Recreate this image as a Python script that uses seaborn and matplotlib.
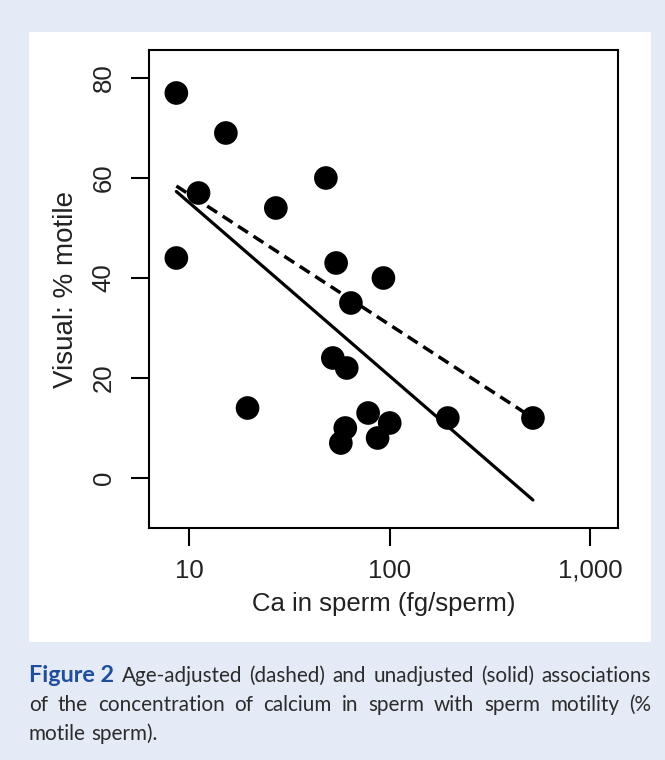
import numpy as np
import pandas as pd
import matplotlib
matplotlib.use("Agg")
import matplotlib.pyplot as plt
import seaborn as sns
from matplotlib.patches import Rectangle

# Data
ca_sperm = [8.6, 15.2, 11.1, 48, 27, 8.6, 54, 93, 64, 52, 61, 195, 519,
            60, 57, 78, 100, 87, 19.5]
motile = [77, 69, 57, 60, 54, 44, 43, 40, 35, 24, 22, 12, 12,
          10, 7, 13, 11, 8, 14]

# fitted lines (end points)
fit_x = [8.6, 519]
solid_y = [57.3, -4.4]    # unadjusted
dashed_y = [58.4, 12.0]   # age-adjusted

x_ticks = [10, 100, 1000]
x_ticklabels = ["10", "100", "1,000"]
y_ticks = [0, 20, 40, 60, 80]

caption_line1 = "Age-adjusted (dashed) and unadjusted (solid) associations"
caption_line2 = "of the concentration of calcium in sperm with sperm motility (%"
caption_line3 = "motile sperm)."

df = pd.DataFrame({"ca": ca_sperm, "motile": motile})

sns.set_style("white")
plt.rcParams["font.family"] = ["Liberation Sans", "DejaVu Sans"]

W, H = 665, 760
fig = plt.figure(figsize=(W / 100, H / 100), dpi=100)
fig.patch.set_facecolor("#e4eaf6")

# white panel behind the chart
fig.patches.append(Rectangle((29 / W, 1 - 641.7 / H), 622 / W, 609.7 / H,
                             transform=fig.transFigure, facecolor="white",
                             edgecolor="none", zorder=-5))

ax = fig.add_axes([149 / W, 1 - 528 / H, 469 / W, 478 / H], zorder=2)
ax.set_facecolor("white")

sns.scatterplot(data=df, x="ca", y="motile", s=290, color="black",
                edgecolor="none", ax=ax, zorder=3)
sns.lineplot(x=fit_x, y=solid_y, color="black", linewidth=2.3, ax=ax, zorder=4)
sns.lineplot(x=fit_x, y=dashed_y, color="black", linewidth=2.5, ax=ax, zorder=4,
             linestyle=(0, (3.4, 1.9)))

ax.set_xscale("log")
ax.set_xlim(6.28, 1380)
ax.set_ylim(-10, 85.6)
ax.set_xticks(x_ticks)
ax.set_xticklabels(x_ticklabels)
ax.minorticks_off()
ax.set_yticks(y_ticks)
ax.set_yticklabels([str(v) for v in y_ticks], rotation=90, va="center")

for s in ax.spines.values():
    s.set_visible(True)
    s.set_color("black")
    s.set_linewidth(1.5)

ax.tick_params(axis="both", direction="out", length=13, width=1.5,
               color="black", labelsize=18.5, labelcolor="#222222",
               bottom=True, left=True)
ax.tick_params(axis="x", pad=9)
ax.tick_params(axis="y", pad=11)

ax.set_xlabel("Ca in sperm (fg/sperm)", fontsize=18.5, color="#222222", labelpad=7)
ax.set_ylabel("Visual: % motile", fontsize=20, color="#222222", labelpad=9)

# caption, justified like the journal layout
cap_font = ["Lato", "DejaVu Sans"]
left, right = 29, 651
fig.canvas.draw()
renderer = fig.canvas.get_renderer()


def place_words(items, y_px, justify=True):
    texts = []
    for word, kw in items:
        t = fig.text(0, 1 - y_px / H, word, family=cap_font, va="baseline",
                     ha="left", **kw)
        texts.append(t)
    widths = [t.get_window_extent(renderer).width for t in texts]
    if justify and len(texts) > 1:
        gap = (right - left - sum(widths)) / (len(texts) - 1)
    else:
        gap = 5
    x = left
    for t, w in zip(texts, widths):
        t.set_x(x / W)
        x += w + gap


reg = dict(fontsize=14.9, color="#2b2b2b")
line1 = [("Figure 2", dict(fontsize=16.8, fontweight="bold", color="#1f4e9c"))]
line1 += [(w, reg) for w in caption_line1.split()]
place_words(line1, 682)
place_words([(w, reg) for w in caption_line2.split()], 711)
place_words([(w, reg) for w in caption_line3.split()], 740, justify=False)

fig.savefig("out.png", dpi=100, facecolor=fig.get_facecolor())
